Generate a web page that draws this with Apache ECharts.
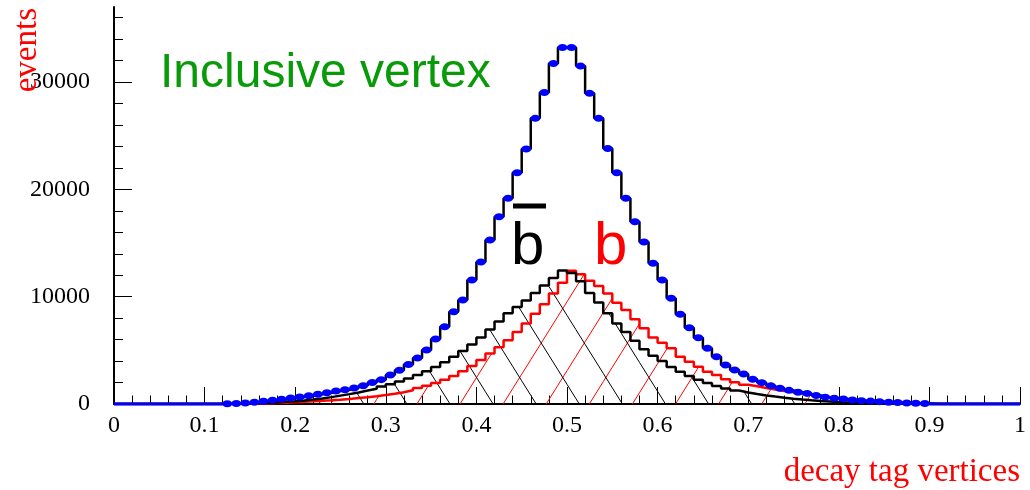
<!DOCTYPE html>
<html>
<head>
<meta charset="utf-8">
<script src="https://cdn.jsdelivr.net/npm/echarts@6/dist/echarts.min.js"></script>
<style>
  html, body { margin: 0; padding: 0; background: #ffffff; }
  #chart { width: 1030px; height: 490px; }
</style>
</head>
<body>
<div id="chart"></div>
<script>
// Histogram binning: 100 bins of width 0.01 on [0, 1]
const BIN_MIN = 0;
const BIN_WIDTH = 0.01;

// Inclusive vertex sample (events per bin)
const inclusive = [
  0, 0, 0, 0, 0, 0, 0, 0, 0, 0,
  0, 0, 20, 50, 100, 170, 260, 360, 440, 550,
  650, 760, 900, 1050, 1220, 1320, 1500, 1700, 2000, 2270,
  2700, 3140, 3680, 4290, 5030, 6050, 7200, 8600, 9700, 11550,
  13230, 15280, 17450, 19170, 21550, 23760, 26620, 29040, 31740, 33230,
  33230, 31490, 28950, 26620, 23820, 21550, 19170, 16990, 15090, 13110,
  11550, 9850, 8360, 7110, 6180, 5190, 4410, 3630, 3170, 2800,
  2300, 1990, 1690, 1460, 1270, 1090, 990, 800, 640, 530,
  470, 370, 310, 270, 220, 170, 130, 95, 65, 40,
  0, 0, 0, 0, 0, 0, 0, 0, 0, 0
];

// b-bar tagged vertices
const bbarTag = [
  0, 0, 0, 0, 0, 0, 0, 0, 0, 0,
  5, 10, 20, 35, 55, 80, 110, 150, 200, 260,
  330, 420, 520, 640, 780, 920, 1080, 1250, 1430, 1630,
  1850, 2100, 2380, 2700, 3050, 3450, 3900, 4400, 4950, 5550,
  6200, 6950, 7700, 8450, 9050, 9650, 10350, 11050, 11750, 12450,
  12200, 11450, 10350, 9450, 8450, 7500, 6700, 5900, 5100, 4500,
  4000, 3450, 3000, 2600, 2250, 1950, 1680, 1450, 1250, 1080,
  930, 800, 690, 590, 500, 420, 350, 290, 240, 190,
  150, 115, 85, 60, 40, 25, 12, 0, 0, 0,
  0, 0, 0, 0, 0, 0, 0, 0, 0, 0
];

// b tagged vertices
const bTag = [
  0, 0, 0, 0, 0, 0, 0, 0, 0, 0,
  0, 0, 0, 10, 20, 40, 60, 90, 120, 160,
  200, 250, 300, 340, 400, 470, 550, 630, 720, 830,
  950, 1100, 1280, 1480, 1700, 1950, 2250, 2600, 3050, 3550,
  4100, 4700, 5300, 5950, 6700, 7500, 8400, 9300, 10300, 11300,
  12420, 12100, 11490, 10990, 10310, 9440, 8760, 7890, 7050, 6200,
  5700, 5190, 4410, 3940, 3480, 3010, 2700, 2300, 2020, 1800,
  1650, 1500, 1350, 1220, 1100, 980, 870, 740, 600, 480,
  400, 330, 270, 220, 175, 140, 105, 75, 50, 30,
  15, 0, 0, 0, 0, 0, 0, 0, 0, 0
];

// Axis ticks
const Y_MAX = 37000;
const yMajorTicks = [0, 10000, 20000, 30000];
const yMinorTicks = [2000, 4000, 6000, 8000, 12000, 14000, 16000, 18000,
  22000, 24000, 26000, 28000, 32000, 34000, 36000];

const SERIF = "'Liberation Serif', 'Times New Roman', Times, serif";
const SANS = "'Liberation Sans', Arial, Helvetica, sans-serif";

// hatch geometry (pixels)
const HATCH_GAP = 43.1;     // horizontal distance between hatch lines along the baseline
const HATCH_SLOPE = 1.6;    // rise per pixel of run
const BACK_PHASE = 34.3;    // "\" hatching offset from the axis origin
const FWD_PHASE = 1.2;      // "/" hatching offset from the axis origin

const binEdges = Array.from({ length: inclusive.length + 1 },
  (_, i) => +(BIN_MIN + i * BIN_WIDTH).toFixed(4));

function stepData(vals) {
  const pts = vals.map((v, i) => [binEdges[i], v]);
  pts.push([binEdges[vals.length], vals[vals.length - 1]]);
  return pts;
}

function binRanges(vals) {
  return vals.map((v, i) => [binEdges[i], binEdges[i + 1], v]);
}

// Draws the hatch lines clipped to one bin's rectangle under the histogram
function hatchRenderer(color, backward) {
  return function (params, api) {
    const lo = api.value(0), hi = api.value(1), v = api.value(2);
    if (!(v > 0)) return null;
    const tl = api.coord([lo, v]);
    const br = api.coord([hi, 0]);
    const origin = api.coord([BIN_MIN, 0])[0];
    const xl = tl[0], xr = br[0], yt = tl[1], yb = br[1];
    const run = (yb - yt) / HATCH_SLOPE;
    const phase = backward ? BACK_PHASE : FWD_PHASE;
    const kMin = Math.floor((xl - run - origin - phase) / HATCH_GAP) - 1;
    const kMax = Math.ceil((xr + run - origin - phase) / HATCH_GAP) + 1;
    const children = [];
    for (let k = kMin; k <= kMax; k++) {
      const xk = origin + phase + k * HATCH_GAP;
      let a, b, ya, yb2;
      if (backward) {
        a = Math.max(xl, xk - run); b = Math.min(xr, xk);
        ya = yb - (xk - a) * HATCH_SLOPE; yb2 = yb - (xk - b) * HATCH_SLOPE;
      } else {
        a = Math.max(xl, xk); b = Math.min(xr, xk + run);
        ya = yb - (a - xk) * HATCH_SLOPE; yb2 = yb - (b - xk) * HATCH_SLOPE;
      }
      if (b > a) {
        children.push({
          type: 'line',
          shape: { x1: a, y1: ya, x2: b, y2: yb2 },
          style: { stroke: color, lineWidth: 1 }
        });
      }
    }
    return { type: 'group', children: children };
  };
}

// Blue data markers: zero bins are drawn as a flat segment across the bin
function zeroBinRenderer(params, api) {
  const lo = api.value(0), hi = api.value(1), v = api.value(2);
  if (v !== 0) return null;
  const a = api.coord([lo, v]), b = api.coord([hi, v]);
  return {
    type: 'line',
    shape: { x1: a[0], y1: a[1], x2: b[0], y2: b[1] },
    style: { stroke: '#0000ff', lineWidth: 3 }
  };
}

const markerPoints = inclusive
  .map((v, i) => [+(binEdges[i] + BIN_WIDTH / 2).toFixed(4), v])
  .filter(p => p[1] > 0);

const chart = echarts.init(document.getElementById('chart'), null, { renderer: 'canvas' });

chart.setOption({
  animation: false,
  backgroundColor: '#ffffff',
  grid: { left: 114, right: 10, top: 7, bottom: 86, containLabel: false },
  xAxis: {
    type: 'value',
    min: 0, max: 1, interval: 0.1,
    axisLine: { show: true, lineStyle: { color: '#000', width: 2 } },
    axisTick: { show: true, inside: true, length: 17, lineStyle: { color: '#000', width: 1 } },
    minorTick: { show: true, splitNumber: 5, length: 8.5, lineStyle: { color: '#000', width: 1 } },
    splitLine: { show: false },
    minorSplitLine: { show: false },
    axisLabel: { color: '#000', fontFamily: SERIF, fontSize: 24, margin: 10,
      formatter: v => String(+v.toFixed(2)) }
  },
  yAxis: [
    {
      type: 'value',
      min: 0, max: Y_MAX, interval: 10000,
      axisLine: { show: true, lineStyle: { color: '#000', width: 2 } },
      axisTick: { show: true, inside: true, length: 18, customValues: yMajorTicks,
        lineStyle: { color: '#000', width: 1 } },
      splitLine: { show: false },
      axisLabel: { color: '#000', fontFamily: SERIF, fontSize: 24, margin: 24,
        customValues: yMajorTicks, formatter: v => String(Math.round(v)) }
    },
    {
      type: 'value',
      min: 0, max: Y_MAX, position: 'left',
      axisLine: { show: false },
      axisTick: { show: true, inside: true, length: 9, customValues: yMinorTicks,
        lineStyle: { color: '#000', width: 1 } },
      splitLine: { show: false },
      axisLabel: { show: false }
    }
  ],
  series: [
    {
      name: 'b hatch', type: 'custom', z: 1, silent: true,
      renderItem: hatchRenderer('#ff0000', false),
      encode: { x: [0, 1], y: 2 },
      data: binRanges(bTag)
    },
    {
      name: 'bbar hatch', type: 'custom', z: 1, silent: true,
      renderItem: hatchRenderer('#000000', true),
      encode: { x: [0, 1], y: 2 },
      data: binRanges(bbarTag)
    },
    {
      name: 'b', type: 'line', step: 'end', symbol: 'none', z: 3,
      lineStyle: { color: '#ff0000', width: 2.5 },
      data: stepData(bTag)
    },
    {
      name: 'bbar', type: 'line', step: 'end', symbol: 'none', z: 4,
      lineStyle: { color: '#000000', width: 2.5 },
      data: stepData(bbarTag)
    },
    {
      name: 'inclusive', type: 'line', step: 'end', symbol: 'none', z: 5,
      lineStyle: { color: '#000000', width: 2.5 },
      data: stepData(inclusive)
    },
    {
      name: 'inclusive zero bins', type: 'custom', z: 6, silent: true,
      renderItem: zeroBinRenderer,
      encode: { x: [0, 1], y: 2 },
      data: binRanges(inclusive)
    },
    {
      name: 'inclusive data', type: 'scatter', z: 7,
      symbol: 'circle', symbolSize: [10, 7],
      itemStyle: { color: '#0000ff', opacity: 1 },
      data: markerPoints
    }
  ],
  graphic: [
    {
      type: 'text', x: 160, y: 74, z: 10,
      style: { text: 'Inclusive vertex', fill: '#089a08', font: '48px ' + SANS,
        align: 'left', verticalAlign: 'middle' }
    },
    {
      type: 'text', x: 511, y: 247, z: 10,
      style: { text: 'b', fill: '#000000', font: '60px ' + SANS,
        align: 'left', verticalAlign: 'middle' }
    },
    {
      type: 'rect', z: 10,
      shape: { x: 513, y: 203.5, width: 33, height: 5 },
      style: { fill: '#000000' }
    },
    {
      type: 'text', x: 594, y: 247, z: 10,
      style: { text: 'b', fill: '#ff0000', font: '60px ' + SANS,
        align: 'left', verticalAlign: 'middle' }
    },
    {
      type: 'text', x: 27, y: 8, rotation: Math.PI / 2, z: 10,
      style: { text: 'events', fill: '#ff0000', font: '33px ' + SERIF,
        align: 'right', verticalAlign: 'middle' }
    },
    {
      type: 'text', x: 1020, y: 472, z: 10,
      style: { text: 'decay tag vertices', fill: '#ff0000', font: '33px ' + SERIF,
        align: 'right', verticalAlign: 'middle' }
    }
  ]
});
</script>
</body>
</html>
